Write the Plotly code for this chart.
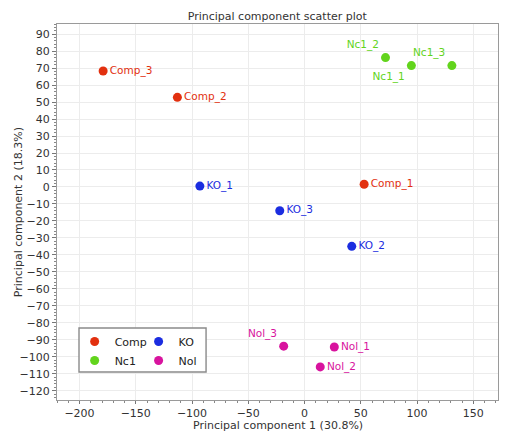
import plotly.graph_objects as go

# ---- data ----
groups = ["Comp", "Nc1", "KO", "Nol"]
colors = {"Comp": "#e2300f", "Nc1": "#62d41c", "KO": "#1b2de0", "Nol": "#d8139e"}

comp_names = ["Comp_1", "Comp_2", "Comp_3"]
comp_pc1 = [53, -113, -179]
comp_pc2 = [1.6, 52.8, 68.3]

nc1_names = ["Nc1_1", "Nc1_2", "Nc1_3"]
nc1_pc1 = [95, 72, 131]
nc1_pc2 = [71.5, 76.2, 71.5]

ko_names = ["KO_1", "KO_2", "KO_3"]
ko_pc1 = [-93, 42, -22]
ko_pc2 = [0.5, -35, -14]

nol_names = ["Nol_1", "Nol_2", "Nol_3"]
nol_pc1 = [26.5, 14, -18.5]
nol_pc2 = [-94.3, -106, -93.8]

label_pos = {
    "Comp": ["middle right", "middle right", "middle right"],
    "Nc1": ["bottom left", "top left", "top left"],
    "KO": ["middle right", "middle right", "middle right"],
    "Nol": ["middle right", "middle right", "top left"],
}

series = {
    "Comp": (comp_names, comp_pc1, comp_pc2, "legend"),
    "Nc1": (nc1_names, nc1_pc1, nc1_pc2, "legend"),
    "KO": (ko_names, ko_pc1, ko_pc2, "legend2"),
    "Nol": (nol_names, nol_pc1, nol_pc2, "legend2"),
}

font_family = "DejaVu Sans"
fig = go.Figure()
for g in groups:
    names, xs, ys, leg = series[g]
    fig.add_trace(go.Scatter(
        x=xs, y=ys, text=names, name=g, mode="markers+text",
        textposition=label_pos[g],
        marker=dict(size=9, color=colors[g]),
        textfont=dict(size=10.5, color=colors[g], family=font_family),
        legend=leg,
    ))

axis_common = dict(
    showline=True, linecolor="#9a9a9a", linewidth=1.2, mirror=True,
    showgrid=True, gridcolor="#ececec", gridwidth=1,
    zeroline=False, automargin=False,
    ticks="outside", ticklen=4, tickcolor="#777", tickwidth=1,
    tickfont=dict(size=11, color="#333", family=font_family),
)

fig.update_xaxes(
    range=[-220, 172], tickmode="linear", tick0=0, dtick=50,
    minor=dict(ticks="outside", ticklen=2, tickcolor="#888", dtick=10, showgrid=False),
    ticklen=3,
    **{k: v for k, v in axis_common.items() if k != "ticklen"},
)
fig.update_yaxes(
    range=[-125.5, 96], tickmode="linear", tick0=0, dtick=10,
    minor=dict(ticks="outside", ticklen=2, tickcolor="#888", dtick=2, showgrid=False),
    **axis_common,
)

legend_common = dict(
    bgcolor="rgba(0,0,0,0)", borderwidth=0,
    font=dict(size=11, color="#222", family=font_family),
    orientation="v", xanchor="left", yanchor="top",
    itemwidth=30, tracegroupgap=0,
)

title_font = dict(size=11, color="#333", family=font_family)

fig.update_layout(
    width=506, height=433,
    margin=dict(l=57, r=8, t=24, b=33),
    paper_bgcolor="white", plot_bgcolor="white",
    title=dict(text="Principal component scatter plot", x=0.548, xanchor="center",
               y=0.963, yanchor="middle", font=title_font),
    legend=dict(x=0.04, y=0.194, **legend_common),
    legend2=dict(x=0.185, y=0.194, **legend_common),
    shapes=[dict(type="rect", xref="paper", yref="paper",
                 x0=0.0499, x1=0.338, y0=0.0745, y1=0.1915,
                 line=dict(color="#8a8a8a", width=1.4),
                 fillcolor="white", layer="above")],
    annotations=[
        dict(text="Principal component 2 (18.3%)", xref="paper", yref="paper",
             x=-0.088, y=0.5, xanchor="center", yanchor="middle",
             textangle=-90, showarrow=False, font=title_font),
        dict(text="Principal component 1 (30.8%)", xref="paper", yref="paper",
             x=0.5, y=-0.0875, xanchor="center", yanchor="bottom",
             borderpad=0, showarrow=False, font=title_font),
    ],
    showlegend=True,
)

fig.write_html("out.html")
